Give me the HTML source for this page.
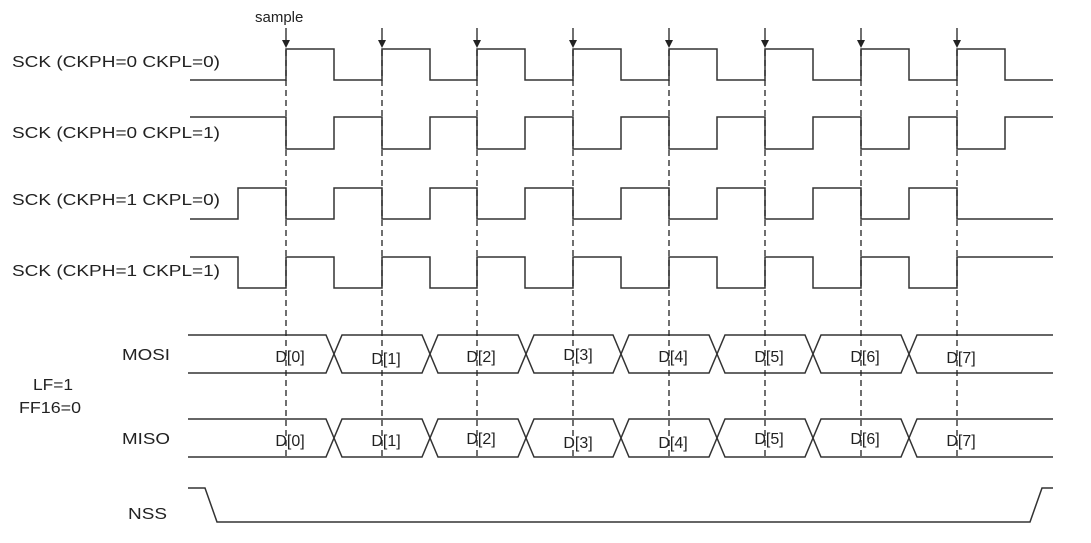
<!DOCTYPE html>
<html><head><style>
body{margin:0;background:#fff;}
svg{display:block;font-family:"Liberation Sans",sans-serif;}
</style></head><body>
<svg width="1091" height="543" viewBox="0 0 1091 543" xmlns="http://www.w3.org/2000/svg">
<g fill="#222" font-size="16">
<text x="12" y="67" textLength="208" lengthAdjust="spacingAndGlyphs">SCK (CKPH=0 CKPL=0)</text>
<text x="12" y="138" textLength="208" lengthAdjust="spacingAndGlyphs">SCK (CKPH=0 CKPL=1)</text>
<text x="12" y="205" textLength="208" lengthAdjust="spacingAndGlyphs">SCK (CKPH=1 CKPL=0)</text>
<text x="12" y="276" textLength="208" lengthAdjust="spacingAndGlyphs">SCK (CKPH=1 CKPL=1)</text>
<text x="122" y="360" textLength="48" lengthAdjust="spacingAndGlyphs">MOSI</text>
<text x="122" y="444" textLength="48" lengthAdjust="spacingAndGlyphs">MISO</text>
<text x="128" y="519" textLength="39" lengthAdjust="spacingAndGlyphs">NSS</text>
<text x="33" y="390" textLength="40" lengthAdjust="spacingAndGlyphs">LF=1</text>
<text x="19" y="413" textLength="62" lengthAdjust="spacingAndGlyphs">FF16=0</text>
<text x="255" y="22" font-size="15">sample</text>
</g>
<g fill="none" stroke="#333" stroke-width="1.5">
<path d="M190 80H286V49H334V80H382V49H430V80H477V49H525V80H573V49H621V80H669V49H717V80H765V49H813V80H861V49H909V80H957V49H1005V80H1053"/>
<path d="M190 117H286V149H334V117H382V149H430V117H477V149H525V117H573V149H621V117H669V149H717V117H765V149H813V117H861V149H909V117H957V149H1005V117H1053"/>
<path d="M190 219H238V188H286V219H334V188H382V219H430V188H477V219H525V188H573V219H621V188H669V219H717V188H765V219H813V188H861V219H909V188H957V219H1053"/>
<path d="M190 257H238V288H286V257H334V288H382V257H430V288H477V257H525V288H573V257H621V288H669V257H717V288H765V257H813V288H861V257H909V288H957V257H1053"/>
<path d="M188 335H326L342 373H422L438 335H518L534 373H613L629 335H709L725 373H805L821 335H901L917 373H1053"/>
<path d="M188 373H326L342 335H422L438 373H518L534 335H613L629 373H709L725 335H805L821 373H901L917 335H1053"/>
<path d="M188 419H326L342 457H422L438 419H518L534 457H613L629 419H709L725 457H805L821 419H901L917 457H1053"/>
<path d="M188 457H326L342 419H422L438 457H518L534 419H613L629 457H709L725 419H805L821 457H901L917 419H1053"/>
<path d="M188 488H205L217 522H1030L1042 488H1053"/>
</g>
<g stroke="#222" stroke-width="1.3" stroke-dasharray="6,4" fill="none">
<path d="M286 50V460M382 50V460M477 50V460M573 50V460M669 50V460M765 50V460M861 50V460M957 50V460"/>
</g>
<g stroke="#222" stroke-width="1.3">
<path d="M286 28V44M382 28V44M477 28V44M573 28V44M669 28V44M765 28V44M861 28V44M957 28V44"/>
</g>
<g fill="#222">
<path d="M282 40h8l-4 8z"/><path d="M378 40h8l-4 8z"/><path d="M473 40h8l-4 8z"/><path d="M569 40h8l-4 8z"/><path d="M665 40h8l-4 8z"/><path d="M761 40h8l-4 8z"/><path d="M857 40h8l-4 8z"/><path d="M953 40h8l-4 8z"/>
</g>
<g fill="#222" font-size="16" text-anchor="middle">
<text x="290" y="362">D[0]</text><text x="386" y="364">D[1]</text><text x="481" y="362">D[2]</text><text x="578" y="360">D[3]</text><text x="673" y="362">D[4]</text><text x="769" y="362">D[5]</text><text x="865" y="362">D[6]</text><text x="961" y="363">D[7]</text>
<text x="290" y="446">D[0]</text><text x="386" y="446">D[1]</text><text x="481" y="444">D[2]</text><text x="578" y="448">D[3]</text><text x="673" y="448">D[4]</text><text x="769" y="444">D[5]</text><text x="865" y="444">D[6]</text><text x="961" y="446">D[7]</text>
</g>
</svg>
</body></html>
